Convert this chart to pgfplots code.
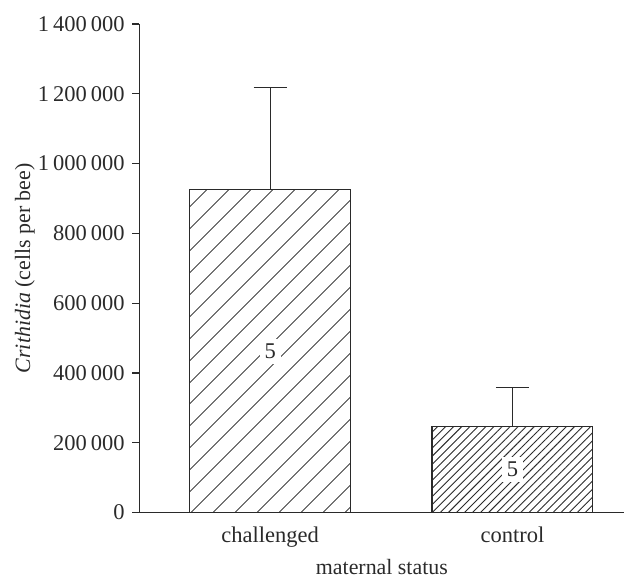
\documentclass[border=0pt]{standalone}
\usepackage{pgfplots}
\pgfplotsset{compat=1.18}
\usepackage{fontspec}
\setmainfont{Liberation Serif}
\usetikzlibrary{patterns.meta}
\definecolor{ink}{HTML}{2A2A2A}
\begin{document}
\fontsize{11}{13}\selectfont
\begin{tikzpicture}
\begin{axis}[
  scale only axis,
  width=242.75bp, height=244.5bp,
  xmin=-0.540, xmax=1.462,
  ymin=0, ymax=1400000,
  axis x line=bottom, axis y line=left,
  axis line style={-, ink, line width=0.6bp},
  xtick={0,1}, xticklabels={challenged, control},
  x tick style={draw=none},
  ytick={0,200000,400000,600000,800000,1000000,1200000,1400000},
  y tick style={ink, line width=0.6bp},
  tick align=outside, major tick length=3.5bp,
  scaled y ticks=false,
  /pgf/number format/.cd, fixed, 1000 sep={\hspace{0.18em}}, assume math mode=true,
  /pgfplots/.cd,
  ticklabel style={font=\fontsize{11.3}{13}\selectfont, text=ink},
  ylabel={\textit{Crithidia} (cells per bee)},
  xlabel={maternal status},
  label style={font=\fontsize{11}{13}\selectfont, text=ink},
  ylabel style={yshift=-6bp},
  xlabel style={yshift=1.5bp},
  ybar, bar width=80.5bp, bar shift=0pt,
  error bars/y dir=plus, error bars/y explicit,
  error bars/error mark options={rotate=90, mark size=8.25bp, line width=0.6bp, ink},
  error bars/error bar style={line width=0.6bp, ink},
  clip=false,
]
\addplot[draw=ink, line width=0.6bp, pattern={Lines[angle=45,distance=8.1bp,line width=0.45bp]}, pattern color=ink]
  coordinates {(0,924700) +- (0,292300)};
\addplot[draw=ink, line width=0.6bp, pattern={Lines[angle=45,distance=2.85bp,line width=0.45bp]}, pattern color=ink]
  coordinates {(1,246200) +- (0,111700)};
\node[fill=white, inner sep=2.5bp, text=ink, font=\fontsize{11.3}{13}\selectfont] at (axis cs:0,462350) {5};
\node[fill=white, inner sep=2.5bp, text=ink, font=\fontsize{11.3}{13}\selectfont] at (axis cs:1,123100) {5};
\end{axis}
\path[use as bounding box] ([xshift=-69.75bp, yshift=-32.5bp]current axis.south west) rectangle ([xshift=242.75bp, yshift=256.5bp]current axis.south west);
\end{tikzpicture}
\end{document}
